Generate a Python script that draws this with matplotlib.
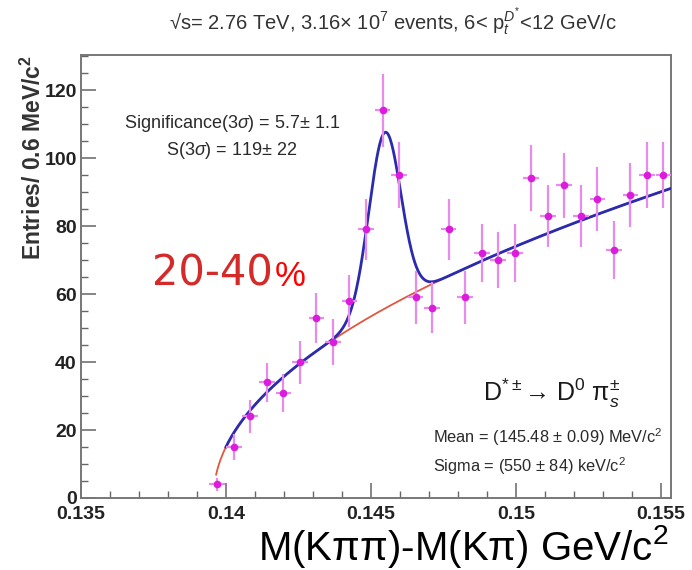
import numpy as np
import matplotlib
matplotlib.use("Agg")
import matplotlib.pyplot as plt
from matplotlib.ticker import MultipleLocator

# Invariant-mass difference histogram (bin centres, GeV/c^2) and entries
bin_centers = [0.13970, 0.14027, 0.14084, 0.14141, 0.14198, 0.14255, 0.14312,
               0.14369, 0.14426, 0.14483, 0.14540, 0.14597, 0.14654, 0.14711,
               0.14768, 0.14825, 0.14882, 0.14939, 0.14996, 0.15053, 0.15110,
               0.15167, 0.15224, 0.15281, 0.15338, 0.15395, 0.15452, 0.15509]
entries = [4, 15, 24, 34, 31, 40, 53, 46, 58, 79, 114, 95, 59, 56,
           79, 59, 72, 70, 72, 94, 83, 92, 83, 88, 73, 89, 95, 95]
bin_half_width = 0.00027

# Fit model: threshold background + Gaussian signal
pion_mass = 0.13957
bkg_norm = 725.0
bkg_power = 0.5
sig_mean = 0.14548
sig_sigma = 0.00055
sig_yield = 119.0
bin_width = 0.0006
bkg_start, sig_start, fit_end = 0.13966, 0.14000, 0.15535

x_ticks = [0.135, 0.14, 0.145, 0.15, 0.155]
x_tick_labels = ["0.135", "0.14", "0.145", "0.15", "0.155"]
y_ticks = [0, 20, 40, 60, 80, 100, 120]

plt.rcParams["font.family"] = ["Liberation Sans", "DejaVu Sans"]
plt.rcParams["mathtext.fontset"] = "custom"
plt.rcParams["mathtext.rm"] = "Liberation Sans"
plt.rcParams["mathtext.it"] = "Liberation Sans:italic"
plt.rcParams["mathtext.bf"] = "Liberation Sans:bold"

W, H = 692, 570
fig = plt.figure(figsize=(W / 100, H / 100), dpi=100)
ax = fig.add_axes([81 / W, 1 - 498 / H, (671 - 81) / W, (498 - 55) / H])


def background(x):
    return bkg_norm * np.power(np.clip(x - pion_mass, 0, None), bkg_power)


def total(x):
    amp = sig_yield * bin_width / (sig_sigma * np.sqrt(2 * np.pi))
    return background(x) + amp * np.exp(-0.5 * ((x - sig_mean) / sig_sigma) ** 2)


xb = np.linspace(bkg_start, fit_end, 600)
xs = np.linspace(sig_start, fit_end, 600)
ax.plot(xb, background(xb), color="#e2553f", lw=1.3, zorder=2)
ax.plot(xs, total(xs), color="#2b2bb0", lw=2.0, zorder=3)

ax.errorbar(bin_centers, entries, yerr=np.sqrt(entries), xerr=bin_half_width,
            fmt="o", ms=4.5, color="#dc1cdc", ecolor="#e78ceb",
            elinewidth=1.6, capsize=0, zorder=4)

ax.set_xlim(0.135, 0.15535)
ax.set_ylim(0, 130.3)
ax.set_xticks(x_ticks)
ax.set_xticklabels(x_tick_labels)
ax.set_yticks(y_ticks)
ax.xaxis.set_minor_locator(MultipleLocator(0.001))
ax.yaxis.set_minor_locator(MultipleLocator(5))
ax.tick_params(axis="both", which="both", direction="in", top=False,
               right=False, colors="#666666", labelcolor="#222222")
ax.tick_params(axis="both", which="major", length=11, width=1.1)
ax.tick_params(axis="both", which="minor", length=5, width=1.0)
ax.tick_params(axis="x", which="major", pad=6, labelsize=14)
ax.tick_params(axis="y", which="major", pad=3, labelsize=14)
for lab in ax.get_xticklabels() + ax.get_yticklabels():
    lab.set_fontweight("bold")
for sp in ax.spines.values():
    sp.set_color("#777777")
    sp.set_linewidth(1.4)


def fx(px):
    return px / W


def fy(py):
    return 1 - py / H


fig.text(fx(393), fy(22),
         "√s= 2.76 TeV, 3.16× 10$^{7}$ events, "
         r"6< p$_{t}^{D^{*}}$<12 GeV/c",
         ha="center", va="center", fontsize=14.5, color="#333333")

fig.text(fx(33), fy(55), r"Entries/ 0.6 MeV/c$^{\mathbf{2}}$", rotation=90,
         ha="center", va="top", fontsize=16.5, fontweight="bold",
         color="#333333")

fig.text(fx(232), fy(124), r"Significance(3$\sigma$) = 5.7$\pm$ 1.1",
         ha="center", va="center", fontsize=13, color="#2a2a2a")
fig.text(fx(232), fy(151), r"S(3$\sigma$) = 119$\pm$ 22",
         ha="center", va="center", fontsize=13, color="#2a2a2a")

t1 = fig.text(fx(152), fy(286), "20-40", ha="left", va="baseline",
              fontsize=30, color="#d42a2a", family="DejaVu Sans")
fig.canvas.draw()
bb = t1.get_window_extent()
fig.text(bb.x1 / W + 2 / W, fy(286), "%", ha="left", va="baseline",
         fontsize=25, color="#ff0000", family="Liberation Sans")

fig.text(fx(483), fy(393), "D$^{*\\pm}$\u2192 D$^{0}$ π$_{s}^{\\pm}$",
         ha="left", va="center", fontsize=18, color="#1a1a1a")
fig.text(fx(433), fy(437), r"Mean = (145.48 $\pm$ 0.09) MeV/c$^{2}$",
         ha="left", va="center", fontsize=11.8, color="#2a2a2a")
fig.text(fx(433), fy(466), r"Sigma = (550 $\pm$ 84) keV/c$^{2}$",
         ha="left", va="center", fontsize=11.8, color="#2a2a2a")

fig.text(fx(258), fy(560), "M(Kππ)-M(Kπ) GeV/c$^{2}$",
         ha="left", va="baseline", fontsize=29, color="#000000")

fig.savefig("out.png", dpi=100)
